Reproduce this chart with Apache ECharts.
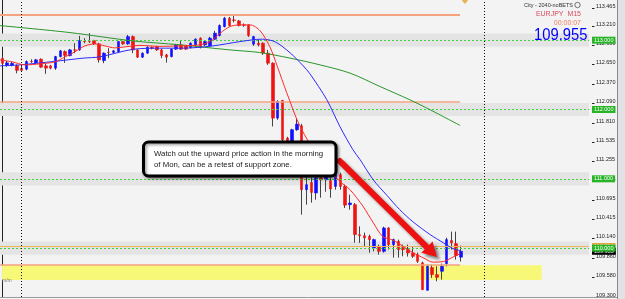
<!DOCTYPE html>
<html><head><meta charset="utf-8">
<script src="https://cdn.jsdelivr.net/npm/echarts@6/dist/echarts.min.js"></script>
<style>html,body{margin:0;padding:0;background:#f3f3f3;overflow:hidden;}#c{width:625px;height:299px;}</style>
</head><body><div id="c"></div>
<script>
// ---- data (EURJPY M15) ----
const opens = [112.738,112.637,112.637,112.634,112.594,112.582,112.695,112.673,112.726,112.630,
112.630,112.597,112.764,112.836,112.778,112.860,112.860,112.983,112.983,112.995,
112.947,112.706,112.827,112.824,112.836,112.980,112.947,113.052,112.860,112.755,
112.813,112.897,112.908,112.860,112.788,112.764,112.871,112.933,112.918,112.894,
112.933,113.029,112.933,112.918,113.015,113.067,113.196,113.317,113.293,113.278,
113.221,113.221,112.943,112.957,112.957,112.813,112.669,111.876,112.130,111.588,
111.539,111.708,111.765,110.843,110.948,110.796,111.012,110.987,110.973,110.891,
111.059,110.891,110.627,110.627,110.195,110.180,110.170,110.003,110.026,109.954,
110.291,110.051,110.098,110.007,109.979,109.931,109.906,109.787,109.392,109.719,
109.618,109.666,109.777,110.112,110.065,109.870];
const closes = [112.666,112.673,112.666,112.565,112.565,112.692,112.690,112.716,112.611,112.597,
112.597,112.764,112.846,112.781,112.860,112.856,112.995,112.979,112.979,112.947,
112.716,112.813,112.824,112.846,112.980,112.947,113.052,112.860,112.755,112.813,
112.899,112.882,112.860,112.778,112.755,112.871,112.933,112.871,112.871,112.957,
113.015,112.894,112.980,113.029,113.101,113.211,113.317,113.211,113.286,113.211,
113.216,113.067,113.052,112.933,112.813,112.669,111.876,112.116,111.564,111.539,
111.708,111.790,110.843,110.915,110.804,111.012,110.987,111.035,110.853,111.074,
110.891,110.620,110.651,110.195,110.180,110.147,110.123,110.123,109.954,110.291,
110.051,110.123,109.979,109.979,109.931,109.882,109.810,109.402,109.738,109.618,
109.579,109.738,110.123,110.075,109.892,109.955];
const highs = [112.767,112.702,112.688,112.652,112.630,112.709,112.724,112.731,112.738,112.659,
112.644,112.774,112.860,112.853,112.875,112.957,113.062,113.029,113.101,113.005,
112.961,112.824,112.885,112.860,112.990,112.990,113.077,113.069,112.868,112.824,
112.911,112.911,112.918,112.875,112.803,112.882,112.947,112.990,112.933,112.969,
113.026,113.041,112.990,113.048,113.134,113.228,113.336,113.336,113.365,113.293,
113.242,113.228,113.062,113.005,112.969,112.860,112.680,112.133,112.140,111.607,
111.722,111.876,111.794,111.030,111.016,111.030,111.045,111.059,111.016,111.103,
111.088,110.915,110.771,110.651,110.314,110.224,110.195,110.137,110.051,110.310,
110.303,110.137,110.123,110.051,110.051,110.026,109.935,109.806,109.762,109.762,
109.738,109.777,110.151,110.238,110.238,110.036];
const lows = [112.644,112.616,112.623,112.522,112.543,112.565,112.673,112.659,112.601,112.515,
112.580,112.572,112.752,112.673,112.767,112.813,112.846,112.957,112.961,112.933,
112.677,112.669,112.741,112.813,112.824,112.933,112.933,112.813,112.745,112.745,
112.803,112.868,112.846,112.741,112.677,112.752,112.860,112.860,112.860,112.882,
112.918,112.882,112.918,112.904,113.005,113.055,113.185,113.199,113.257,113.199,
113.192,113.048,112.918,112.911,112.788,112.644,111.755,111.852,111.492,111.448,
111.463,111.693,110.483,110.627,110.656,110.699,110.728,110.814,110.728,110.843,
110.843,110.579,110.555,110.079,110.075,110.026,109.935,109.954,109.906,109.935,
109.979,109.863,109.863,109.882,109.878,109.859,109.787,109.395,109.388,109.571,
109.522,109.546,109.738,109.979,109.834,109.806];

// moving averages: [bar position, price]
const fastMA = [[-0.5,112.716],[2.0,112.688],[4.7,112.644],[7.8,112.659],[10.9,112.688],[13.0,112.760],[15.0,112.832],[17.1,112.918],[19.2,112.947],[21.2,112.918],[23.3,112.889],[25.4,112.904],[28.5,112.925],[32.6,112.911],[36.8,112.918],[40.9,112.933],[43.0,112.980],[45.1,113.101],[47.1,113.196],[49.2,113.221],[51.3,113.221],[53.4,113.134],[55.4,112.904],[56.9,112.630],[58.9,112.241],[61.6,111.765],[65.8,111.275],[69.9,110.963],[72.0,110.843],[74.7,110.602],[76.8,110.368],[78.8,110.166],[80.9,110.115],[83.0,110.026],[85.0,109.935],[87.1,109.863],[89.2,109.798],[91.3,109.806],[93.1,109.863],[94.8,109.921]];
const midMA = [[-0.5,112.630],[3.6,112.644],[10.5,112.692],[16.7,112.741],[20.2,112.760],[27.0,112.868],[32.6,112.885],[37.4,112.885],[43.6,112.918],[49.2,112.980],[53.8,113.015],[56.5,112.976],[59.6,112.817],[62.3,112.630],[63.7,112.515],[67.2,112.140],[69.9,111.755],[72.6,111.420],[74.1,111.275],[76.8,110.987],[79.7,110.757],[82.3,110.555],[85.0,110.382],[88.6,110.195],[91.3,110.079],[93.3,109.993],[94.8,109.964]];
const slowMA = [[-0.5,113.211],[14.0,113.110],[27.0,112.990],[36.8,112.933],[47.1,112.860],[53.3,112.822],[59.6,112.741],[65.8,112.644],[72.0,112.525],[78.2,112.332],[84.4,112.140],[88.6,111.996],[94.8,111.770]];

const priceTicks = [113.465,113.210,112.930,112.650,112.370,112.090,111.810,111.535,111.255,110.975,110.695,110.415,110.140,109.860,109.580,109.300];
const roundLevels = [113.000,112.000,111.000,110.000];
const trendLevels = [113.364,112.118,109.757];
const goldLevel = 110.024;
const zoneTop = 109.752, zoneBottom = 109.540;
const lastPrice = 109.955;
const separators = [3.9, 99.9];
const arrowFrom = [69.9, 111.257], arrowTo = [90.0, 109.872];
const noteLines = ['Watch out the upward price action in the morning', 'of Mon, can be a retest of support zone.'];

// ---- chart ----
const N = 122;
const categories = Array.from({length: N}, (_, i) => 'bar' + i);
const wickData = opens.map((o, i) => [o, closes[i], lows[i], highs[i]]);
const bodyData = opens.map((o, i) => [o, closes[i], Math.min(o, closes[i]), Math.max(o, closes[i])]);
const XR = N - 0.5;

const chart = echarts.init(document.getElementById('c'), null, {renderer: 'canvas', width: 625, height: 299});
const FONT = 'Liberation Sans';
const tagLabel = (bg) => ({show: true, position: 'end', distance: 3, color: '#fff', backgroundColor: bg, fontSize: 5.5, fontFamily: FONT, padding: [1, 2, 0, 2]});
const option = {
  backgroundColor: '#f3f3f3',
  animation: false,
  grid: {left: 0, top: 0, width: 589, height: 297},
  xAxis: [
    {type: 'category', data: categories, show: false, boundaryGap: true},
    {type: 'value', min: -0.5, max: N - 0.5, show: false}
  ],
  yAxis: {
    type: 'value', position: 'right', offset: 2, min: 109.295, max: 113.58,
    splitLine: {show: false},
    axisLine: {show: true, lineStyle: {color: '#222', width: 1}},
    axisTick: {show: false},
    axisLabel: {show: false}
  },
  series: [
    { // gray bands
      type: 'line', xAxisIndex: 1, data: [], z: 1, silent: true,
      markArea: {silent: true, label: {show: false}, itemStyle: {color: '#e4e4e4'},
        data: roundLevels.map(l => [{coord: [-0.5, l + 0.095]}, {coord: [XR, l - 0.095]}])}
    },
    { // yellow zone (base)
      type: 'line', xAxisIndex: 1, data: [], z: 1, silent: true,
      markArea: {silent: true, label: {show: false}, itemStyle: {color: '#f8f878'},
        data: [[{coord: [-0.08, zoneTop]}, {coord: [111.66, zoneBottom]}]]}
    },
    { // salmon trend lines
      type: 'line', xAxisIndex: 1, data: [], z: 2, silent: true,
      markLine: {silent: true, symbol: ['none', 'none'], label: {show: false},
        data: trendLevels.map((l, k) => [{coord: [-0.5, l], lineStyle: {width: k === 0 ? 2 : 1.5}}, {coord: [94.8, l]}]),
        lineStyle: {color: '#f5a27f', type: 'solid', width: 1.5}}
    },
    { // gold level line + label
      type: 'line', xAxisIndex: 1, data: [], z: 2, silent: true,
      markLine: {silent: true, symbol: ['none', 'none'],
        lineStyle: {color: '#e9b45a', type: 'solid', width: 1},
        label: Object.assign(tagLabel('#e8a33c'), {formatter: () => goldLevel.toFixed(3)}),
        data: [[{coord: [-0.5, goldLevel]}, {coord: [XR, goldLevel]}]]}
    },
    { // last price tag
      type: 'line', xAxisIndex: 1, data: [], z: 2, silent: true,
      markLine: {silent: true, symbol: ['none', 'none'],
        lineStyle: {color: 'rgba(0,0,0,0)', width: 0},
        label: Object.assign(tagLabel('#000'), {formatter: () => lastPrice.toFixed(3)}),
        data: [[{coord: [-0.5, lastPrice]}, {coord: [XR, lastPrice]}]]}
    },
    { // round number levels (green dotted) + tags
      type: 'line', xAxisIndex: 1, data: [], z: 2, silent: true,
      markLine: {silent: true, symbol: ['none', 'none'],
        lineStyle: {color: '#3fd43f', type: [2, 2], width: 1},
        label: Object.assign(tagLabel('#27b427'), {formatter: p => Number(p.data.coord ? p.data.coord[1] : p.value).toFixed(3)}),
        data: roundLevels.map(l => [{coord: [-0.5, l], name: l.toFixed(3)}, {coord: [XR, l]}])}
    },
    { // wicks
      type: 'candlestick', xAxisIndex: 0, data: wickData, z: 3, barWidth: 1, silent: true,
      itemStyle: {color: '#444', color0: '#444', borderColor: '#444', borderColor0: '#444', borderWidth: 1}
    },
    { // bodies
      type: 'candlestick', xAxisIndex: 0, data: bodyData, z: 3, barWidth: 3, silent: true,
      itemStyle: {color: '#1010ff', color0: '#ee1414', borderColor: '#1010ff', borderColor0: '#ee1414', borderWidth: 0.6}
    },
    { // yellow zone overlay
      type: 'line', xAxisIndex: 1, data: [], z: 4, silent: true,
      markArea: {silent: true, label: {show: false}, itemStyle: {color: 'rgba(248,248,120,0.5)'},
        data: [[{coord: [-0.08, zoneTop]}, {coord: [111.66, zoneBottom]}]]}
    },
    {type: 'line', name: 'slow', xAxisIndex: 1, data: slowMA, z: 5, symbol: 'none', smooth: 0.3, lineStyle: {color: '#2a952a', width: 1}, silent: true},
    {type: 'line', name: 'mid', xAxisIndex: 1, data: midMA, z: 5, symbol: 'none', smooth: 0.3, lineStyle: {color: '#2b2bff', width: 1}, silent: true},
    {type: 'line', name: 'fast', xAxisIndex: 1, data: fastMA, z: 5, symbol: 'none', smooth: 0.3, lineStyle: {color: '#ff2a2a', width: 1}, silent: true},
    { // period separators
      type: 'line', xAxisIndex: 1, data: [], z: 6, silent: true,
      markLine: {silent: true, symbol: ['none', 'none'], label: {show: false},
        lineStyle: {color: '#111', type: [1, 2], width: 1},
        data: separators.map(s => ({xAxis: s}))}
    },
    { // marker at top
      type: 'scatter', xAxisIndex: 1, data: [[95.8, 113.574]], symbol: 'diamond', symbolSize: [6, 7], z: 6, silent: true,
      itemStyle: {color: '#e6a232'}
    }
  ]
};
chart.setOption(option);

const fastIdx = option.series.findIndex(s => s.name === 'fast');
const toPx = p => chart.convertToPixel({seriesIndex: fastIdx}, p);

// price scale ticks and labels, placed through the y scale
const scaleEls = [];
priceTicks.forEach(v => {
  const y = toPx([0, v])[1];
  scaleEls.push({type: 'rect', z: 1, shape: {x: 592, y: Math.round(y), width: 2.5, height: 1}, style: {fill: '#222'}});
  scaleEls.push({type: 'text', z: 1, x: 596, y: y - 1.5, style: {text: v.toFixed(3), font: '5.5px ' + FONT, fill: '#222', verticalAlign: 'middle'}});
});

// annotation arrow, placed through the chart's own scales
const p0 = toPx(arrowFrom), p1 = toPx(arrowTo);
const dx = p1[0] - p0[0], dy = p1[1] - p0[1], len = Math.hypot(dx, dy);
const ux = dx / len, uy = dy / len, nx = -uy, ny = ux;
const headL = 14, headW = 8;
const bx = p1[0] - ux * headL, by = p1[1] - uy * headL;
const shadow = {shadowBlur: 3, shadowColor: 'rgba(0,0,0,0.45)', shadowOffsetX: 3, shadowOffsetY: 3};

chart.setOption({
  graphic: scaleEls.concat([
    {type: 'line', z: 50, shape: {x1: p0[0], y1: p0[1], x2: bx + ux * 2, y2: by + uy * 2},
      style: Object.assign({stroke: '#ee1111', lineWidth: 6, lineCap: 'round'}, shadow)},
    {type: 'polygon', z: 50, shape: {points: [[p1[0], p1[1]], [bx + nx * headW, by + ny * headW], [bx - nx * headW, by - ny * headW]]},
      style: Object.assign({fill: '#ee1111'}, shadow)},
    {type: 'rect', z: 60, shape: {x: 143.5, y: 142, width: 192.5, height: 34, r: 5},
      style: {fill: '#ffffff', stroke: '#000', lineWidth: 3, shadowBlur: 3, shadowColor: 'rgba(0,0,0,0.4)', shadowOffsetX: 1.5, shadowOffsetY: 1.5}},
    {type: 'text', z: 61, x: 154, y: 154, style: {text: noteLines[0], font: '7.8px ' + FONT, fill: '#1a1a1a', verticalAlign: 'middle'}},
    {type: 'text', z: 61, x: 154, y: 164.5, style: {text: noteLines[1], font: '7.8px ' + FONT, fill: '#1a1a1a', verticalAlign: 'middle'}},
    {type: 'text', z: 61, x: 573, y: 5.5, style: {text: 'City - 2040-noBETS', font: '5.5px ' + FONT, fill: '#333', align: 'right', verticalAlign: 'middle'}},
    {type: 'circle', z: 61, shape: {cx: 577.5, cy: 5, r: 2.7}, style: {fill: 'none', stroke: '#555', lineWidth: 0.8}},
    {type: 'text', z: 61, x: 581, y: 14.5, style: {text: 'EURJPY  M15', font: '7px ' + FONT, fill: '#d84c5e', align: 'right', verticalAlign: 'middle'}},
    {type: 'text', z: 61, x: 581, y: 23, style: {text: '00:00:07', font: '7px ' + FONT, fill: '#f27c5e', align: 'right', verticalAlign: 'middle'}},
    {type: 'group', z: 61, x: 587.5, y: 35.5, scaleX: 0.87, children: [
      {type: 'text', z: 61, x: 0, y: 0, style: {text: lastPrice.toFixed(3), font: '17px ' + FONT, fill: '#0000ff', align: 'right', verticalAlign: 'middle'}}
    ]},
    {type: 'text', z: 61, x: 2, y: 280.5, style: {text: 'm/m', font: '5px ' + FONT, fill: '#777', verticalAlign: 'middle'}},
    {type: 'rect', z: 70, shape: {x: 617, y: 0, width: 8, height: 299}, style: {fill: '#e2e2e6', stroke: 'none'}},
    {type: 'line', z: 71, shape: {x1: 617.5, y1: 0, x2: 617.5, y2: 299}, style: {stroke: '#8a8a8a', lineWidth: 1}},
    {type: 'rect', z: 70, shape: {x: 0, y: 297, width: 617, height: 2}, style: {fill: '#f7f7f7', stroke: 'none'}},
    {type: 'line', z: 71, shape: {x1: 0, y1: 297.5, x2: 617, y2: 297.5}, style: {stroke: '#9a9a9a', lineWidth: 1}}
  ])
});
</script>
</body></html>
